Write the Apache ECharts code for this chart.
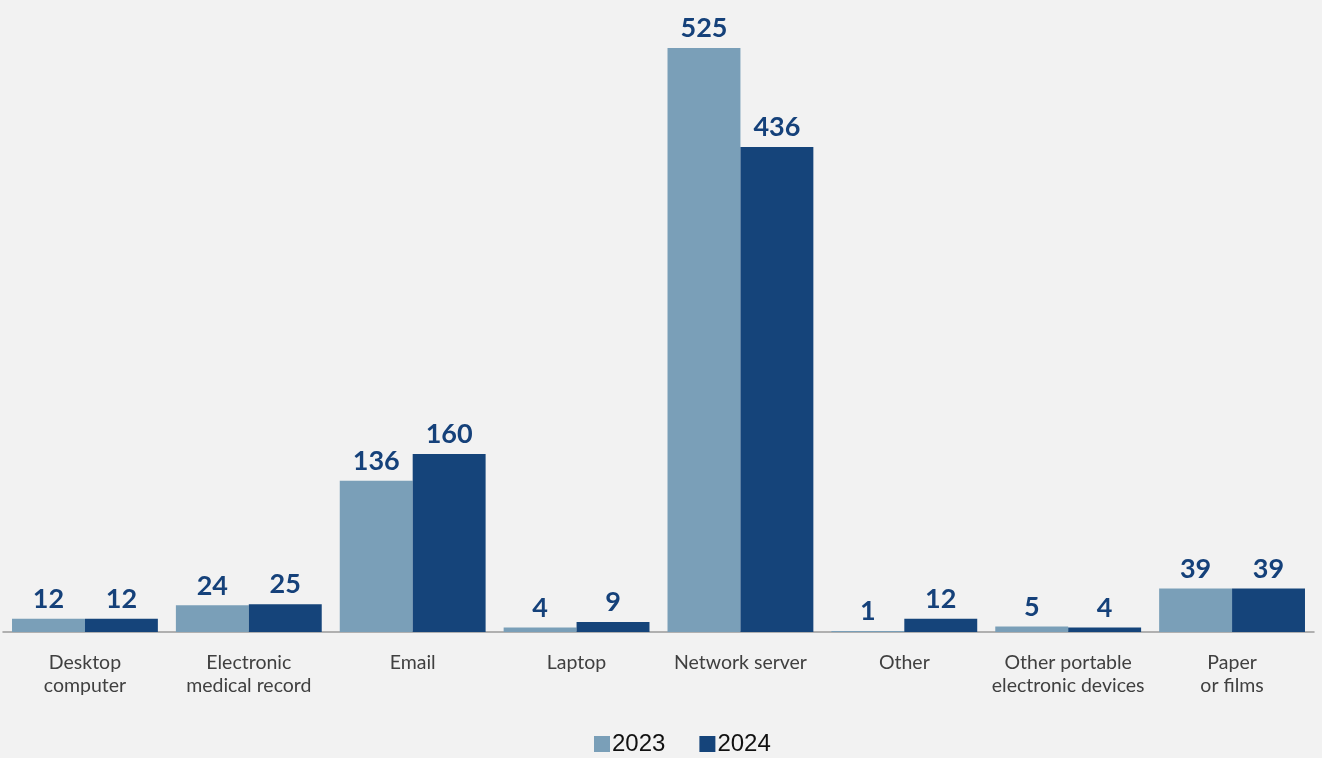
<!DOCTYPE html>
<html><head><meta charset="utf-8">
<script src="https://cdn.jsdelivr.net/npm/echarts@6/dist/echarts.min.js"></script>
<style>html,body{margin:0;padding:0;background:#f2f2f2;}#c{width:1322px;height:758px;}</style>
</head><body><div id="c"></div>
<script>
const categories = ['Desktop\ncomputer','Electronic\nmedical record','Email','Laptop','Network server','Other','Other portable\nelectronic devices','Paper\nor films'];
const values2023 = [12,24,136,4,525,1,5,39];
const values2024 = [12,25,160,9,436,12,4,39];
const seriesNames = ['2023','2024'];

const chart = echarts.init(document.getElementById('c'));
const labelStyle = {show:true, position:'top', distance:6, color:'#15417a', fontFamily:'Lato', fontWeight:'bold', fontSize:27};
chart.setOption({
  backgroundColor:'#f2f2f2',
  grid:{left:3, right:8, top:9, bottom:126, containLabel:false},
  legend:{top:727, left:589, itemWidth:16, itemHeight:16, itemGap:34, icon:'rect',
    textStyle:{fontFamily:'Liberation Sans', fontSize:24, color:'#111', padding:[0,0,0,-3]}},
  xAxis:{type:'category', data:categories,
    axisLine:{lineStyle:{color:'#9a9a9a', width:1.5}}, axisTick:{show:false},
    axisLabel:{interval:0, color:'#404040', fontFamily:'Lato', fontSize:19.5, lineHeight:23, margin:19}},
  yAxis:{type:'value', min:0, max:560, show:false, splitLine:{show:false}},
  series:[
    {name:seriesNames[0], type:'bar', data:values2023, barGap:'0%', barCategoryGap:'11%', itemStyle:{color:'#7a9fb8'}, label:labelStyle},
    {name:seriesNames[1], type:'bar', data:values2024, itemStyle:{color:'#15447a'}, label:labelStyle}
  ]
});
</script></body></html>
